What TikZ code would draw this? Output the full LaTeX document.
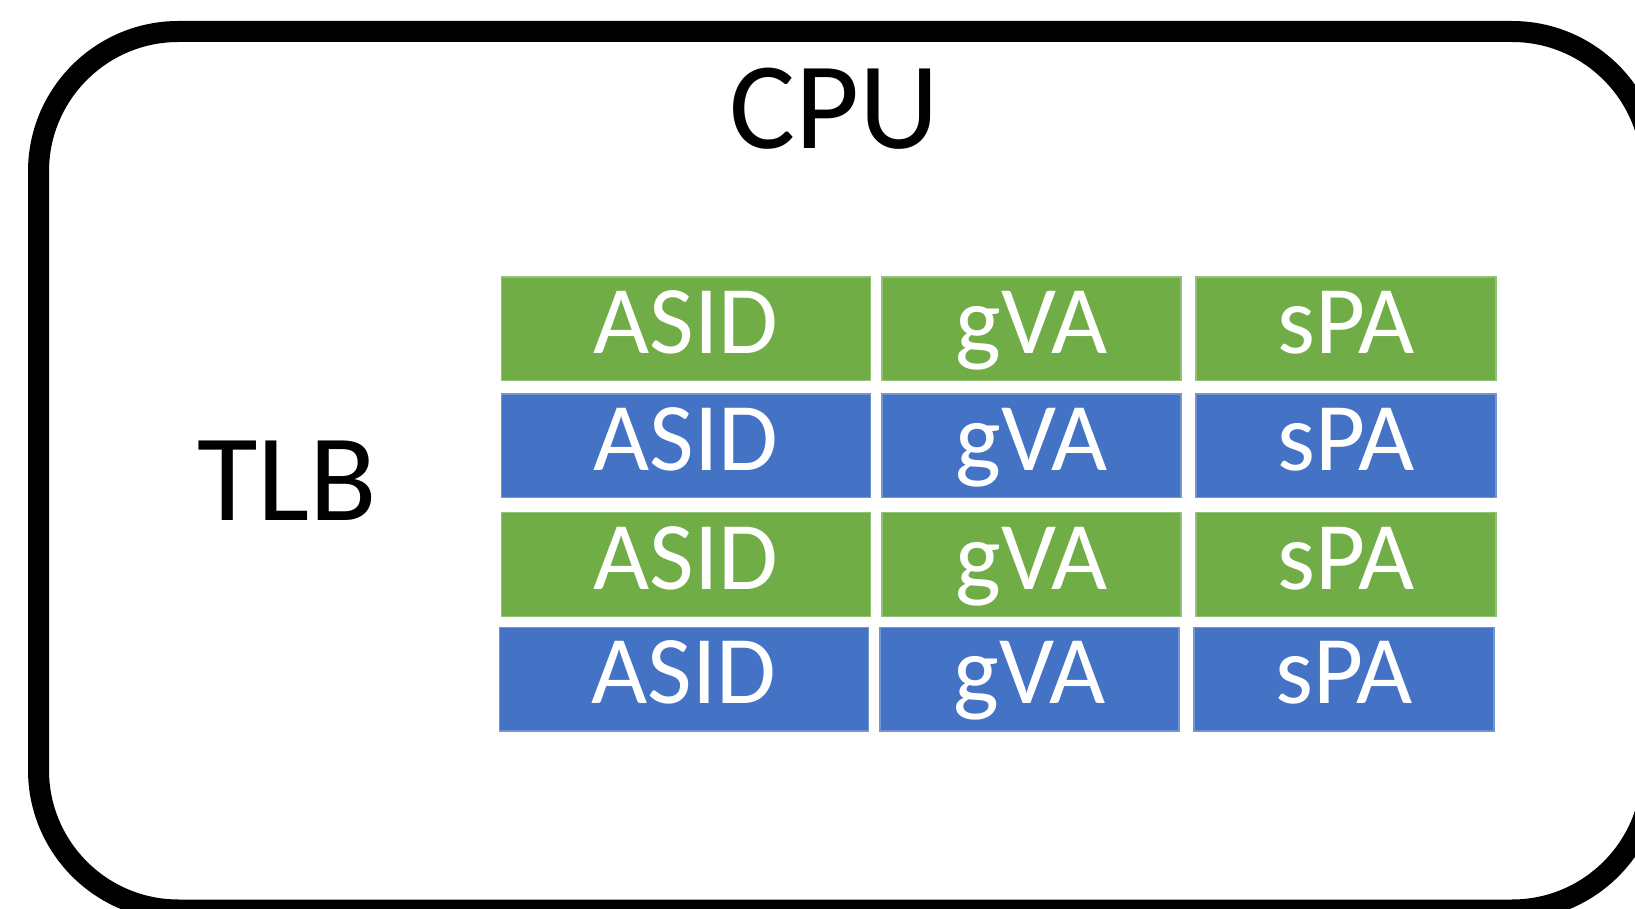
\documentclass[tikz,border=0pt]{standalone}
\usepackage{fontspec}
\setmainfont{Carlito}
\definecolor{cgreen}{HTML}{70AD47}
\definecolor{cblue}{HTML}{4472C4}
\begin{document}
\begin{tikzpicture}[x=0.5pt,y=-0.5pt,
  cell/.style={rectangle, inner sep=0pt, outer sep=0pt, minimum height=51.75pt, anchor=north west, line width=0.6pt},
  lbl/.style={inner sep=0pt, anchor=base, text=white, font=\fontsize{48.5}{58}\selectfont},
  big/.style={inner sep=0pt, anchor=base, text=black, font=\fontsize{62}{74}\selectfont}]
\useasboundingbox (0,0) rectangle (1635,909);
\clip (0,0) rectangle (1635,909);
\draw[line width=10.5pt, rounded corners=70pt] (38.5,31.5) rectangle (1652,910);
\node[big] (cpu) at (834,149) {CPU};
\node[big] (tlb) at (287.5,520) {TLB};
\foreach \r/\t/\dx/\c in {1/277/0/cgreen, 2/394/0/cblue, 3/512.8/0/cgreen, 4/627.5/-2/cblue}{
  \node[cell, fill=\c, draw=\c!75!white, minimum width=184.6pt] (asid\r) at (501.5+\dx,\t) {};
  \node[cell, fill=\c, draw=\c!75!white, minimum width=149.5pt] (gva\r) at (882+\dx,\t) {};
  \node[cell, fill=\c, draw=\c!75!white, minimum width=150pt] (spa\r) at (1196+\dx,\t) {};
  \node[lbl] (asidt\r) at (686.1+\dx,\t+76.3) {ASID};
  \node[lbl] (gvat\r) at (1031.5+\dx,\t+76.3) {gVA};
  \node[lbl] (spat\r) at (1346+\dx,\t+76.3) {sPA};
}
\end{tikzpicture}
\end{document}
